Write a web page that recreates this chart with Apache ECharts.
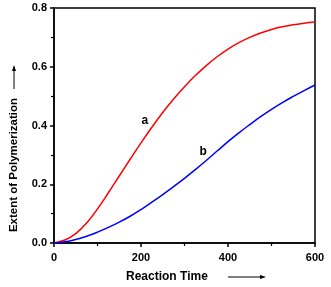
<!DOCTYPE html>
<html><head><meta charset="utf-8">
<script src="https://cdn.jsdelivr.net/npm/echarts@6/dist/echarts.min.js"></script>
<style>html,body{margin:0;padding:0;background:#fff}#c{width:331px;height:287px}</style>
</head><body><div id="c"></div>
<script>
var times = [0,25,50,75,100,125,150,175,200,225,250,275,300,325,350,375,400,425,450,475,500,525,550,575,600];
var seriesA = [0,0.01,0.032,0.068,0.116,0.171,0.228,0.285,0.341,0.394,0.444,0.49,0.532,0.57,0.604,0.634,0.66,0.682,0.70,0.715,0.727,0.736,0.743,0.748,0.752];
var seriesB = [0,0.004,0.012,0.023,0.037,0.053,0.071,0.091,0.114,0.139,0.165,0.192,0.22,0.25,0.281,0.313,0.345,0.375,0.403,0.43,0.455,0.478,0.499,0.519,0.538];
var labelA = {name:'a', x:209, y:0.415};
var labelB = {name:'b', x:343, y:0.31};
var xTitle = 'Reaction Time';
var yTitle = 'Extent of Polymerization';

var font = '"Liberation Sans", Arial, sans-serif';
function pairs(xs, ys){ return xs.map(function(x,i){return [x, ys[i]];}); }
var chart = echarts.init(document.getElementById('c'), null, {renderer:'canvas'});
function mp(l){
  return {symbol:'circle', symbolSize:0, silent:true,
    label:{show:true, formatter:l.name, color:'#000', fontWeight:'bold', fontSize:12, fontFamily:font, position:'inside'},
    data:[{coord:[l.x,l.y]}]};
}
chart.setOption({
  animation:false,
  grid:{left:54, right:16, top:8, bottom:44, show:true, borderColor:'#000', borderWidth:1.5},
  xAxis:{type:'value', min:0, max:600, interval:200,
    axisLine:{lineStyle:{color:'#000', width:1.5}},
    axisTick:{show:true, length:4, lineStyle:{color:'#000', width:1.5}},
    minorTick:{show:true, splitNumber:2, length:3, lineStyle:{color:'#000', width:1.2}},
    splitLine:{show:false},
    axisLabel:{color:'#000', fontWeight:'bold', fontSize:11, fontFamily:font, margin:9}},
  yAxis:{type:'value', min:0, max:0.8, interval:0.2,
    axisLine:{show:true, lineStyle:{color:'#000', width:1.5}},
    axisTick:{show:true, length:4, lineStyle:{color:'#000', width:1.5}},
    minorTick:{show:true, splitNumber:2, length:3, lineStyle:{color:'#000', width:1.2}},
    splitLine:{show:false},
    axisLabel:{color:'#000', fontWeight:'bold', fontSize:11, fontFamily:font, margin:7,
      formatter:function(v){return v.toFixed(1);}}},
  series:[
    {type:'line', data:pairs(times, seriesA), smooth:0.4, showSymbol:false, lineStyle:{color:'#ff0000', width:1.5}, markPoint:mp(labelA)},
    {type:'line', data:pairs(times, seriesB), smooth:0.4, showSymbol:false, lineStyle:{color:'#0000ff', width:1.5}, markPoint:mp(labelB)}
  ],
  graphic:[
    {type:'text', left:126, top:271, style:{text:xTitle, fill:'#000', font:'bold 12px '+font}},
    {type:'line', shape:{x1:228, y1:277, x2:262, y2:277}, style:{stroke:'#000', lineWidth:1}},
    {type:'polygon', shape:{points:[[266,277],[260,275],[260,279]]}, style:{fill:'#000'}},
    {type:'text', x:14, y:165, rotation:Math.PI/2, style:{text:yTitle, fill:'#000', font:'bold 11.5px '+font, align:'center', verticalAlign:'middle'}},
    {type:'line', shape:{x1:14, y1:89, x2:14, y2:69}, style:{stroke:'#000', lineWidth:1}},
    {type:'polygon', shape:{points:[[14,65],[12,71],[16,71]]}, style:{fill:'#000'}}
  ]
});
</script></body></html>
